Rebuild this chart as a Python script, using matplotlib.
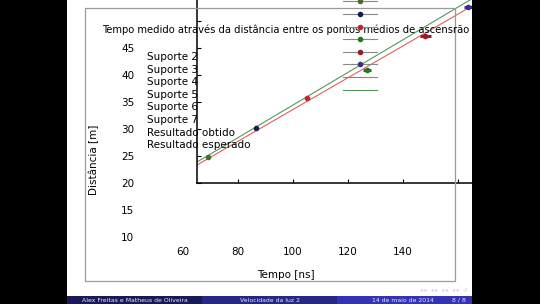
import matplotlib
matplotlib.use("Agg")
import matplotlib.pyplot as plt
from matplotlib.lines import Line2D
from matplotlib.patches import Rectangle

# measured data (tempo em ns, distancia em m)
suportes = ["Suporte 2", "Suporte 3", "Suporte 4", "Suporte 5", "Suporte 6", "Suporte 7"]
tempo = [69.1, 86.5, 105.1, 126.9, 148.0, 163.6]
distancia = [24.8, 30.2, 35.7, 40.9, 47.2, 52.6]
erro_tempo = [0.8, 0.8, 0.8, 1.4, 2.0, 1.6]
cores = ["#4f6b2f", "#1b1b4f", "#c0282d", "#1f7a1f", "#9e1a28", "#3a2f86"]

# fitted / expected lines (two end points each)
t_linha = [60.0, 175.0]
d_obtido = [21.83, 55.70]
d_esperado = [22.35, 57.11]

titulo = "Tempo medido através da distância entre os pontos médios de ascensrão"
rotulos = suportes + ["Resultado obtido", "Resultado esperado"]
xticks_lbl = [60, 80, 100, 120, 140]
yticks_lbl = [10, 15, 20, 25, 30, 35, 40, 45]

W, H = 540, 304
PX_T, PX_D = 2.75, 5.4  # pixels per ns, per m


def t_of(x):
    return 80 + (x - 238) / PX_T


def d_of(y):
    return 20 + (183 - y) / PX_D


def box(x0, y0, x1, y1):
    return [x0 / W, 1 - y1 / H, (x1 - x0) / W, (y1 - y0) / H]


def main():
    plt.rcParams['font.family'] = ['DejaVu Sans']
    fig = plt.figure(figsize=(W / 100, H / 100), dpi=100)
    fig.patch.set_facecolor('white')

    # outer (labels only) axes
    ox0, oy0, ox1, oy1 = 137, 40, 440, 244
    ax_out = fig.add_axes(box(ox0, oy0, ox1, oy1))
    ax_out.set_xlim(t_of(ox0), t_of(ox1))
    ax_out.set_ylim(d_of(oy1), d_of(oy0))
    for s in ax_out.spines.values():
        s.set_visible(False)
    ax_out.patch.set_visible(False)
    ax_out.set_xticks(xticks_lbl)
    ax_out.set_yticks(yticks_lbl)
    ax_out.tick_params(length=0, pad=2, labelsize=7.5)
    ax_out.set_xlabel('Tempo [ns]', fontsize=7.5)
    ax_out.xaxis.set_label_coords((286 - ox0) / (ox1 - ox0), -(270 - oy1) / (oy1 - oy0))
    ax_out.set_ylabel('Distância [m]', fontsize=7.5)
    ax_out.yaxis.set_label_coords(-(ox0 - 99) / (ox1 - ox0), (oy1 - 160) / (oy1 - oy0))
    fig.text(286 / W, 1 - 30 / H, titulo, fontsize=7.2, ha='center', va='center')

    # gray frame of the outer plot
    fig.add_artist(Rectangle((85 / W, 1 - 281 / H), 370 / W, 273 / H, transform=fig.transFigure,
                             fill=False, edgecolor='#9a9a9a', linewidth=0.9))

    # inner data axes
    ix0, iy0, ix1, iy1 = 197, -20, 520, 183
    ax = fig.add_axes(box(ix0, iy0, ix1, iy1))
    ax.set_xlim(t_of(ix0), t_of(ix1))
    ax.set_ylim(d_of(iy1), d_of(iy0))
    ax.patch.set_visible(False)
    ax.spines['top'].set_visible(False)
    ax.spines['right'].set_visible(False)
    ax.spines['left'].set_linewidth(1.1)
    ax.spines['bottom'].set_linewidth(1.1)
    ax.set_xticks([80, 100, 120, 140, 160, 180])
    ax.set_yticks([20, 25, 30, 35, 40, 45, 50, 55])
    ax.tick_params(direction='in', length=3, width=0.8, labelleft=False, labelbottom=False)

    ax.plot(t_linha, d_obtido, color='#e06060', linewidth=0.8)
    ax.plot(t_linha, d_esperado, color='#4f9a5a', linewidth=0.8)
    for i in range(len(tempo)):
        ax.errorbar(tempo[i], distancia[i], xerr=erro_tempo[i], fmt='o', color=cores[i],
                    ecolor=cores[i], elinewidth=2.2, markersize=3, capsize=0)

    # legend: handles and labels ended up in different places
    handles = [Line2D([], [], color='#8a8a8a', linewidth=0.8, marker='o', markersize=3,
                      markerfacecolor=c, markeredgecolor=c) for c in cores]
    handles += [Line2D([], [], color='#e06060', linewidth=0.8),
                Line2D([], [], color='#4f9a5a', linewidth=0.8)]
    fig.legend(handles=handles, labels=[' '] * len(handles), loc='upper left',
               bbox_to_anchor=(343 / W, 1 + 3 / H), frameon=False, fontsize=7.5,
               handlelength=3.3, handletextpad=0, borderpad=0, borderaxespad=0,
               labelspacing=0.25)
    blank = [Line2D([], [], linestyle='none')] * len(rotulos)
    fig.legend(handles=blank, labels=rotulos, loc='upper left',
               bbox_to_anchor=(147 / W, 1 - 52 / H), frameon=False, fontsize=7.5,
               handlelength=0, handletextpad=0, borderpad=0, borderaxespad=0,
               labelspacing=0.25)

    # beamer footer
    foot = [(67, 202, '#191959', 'Alex Freitas e Matheus de Oliveira'),
            (202, 337, '#262686', 'Velocidade da luz 2'),
            (337, 472, '#3333b3', '')]
    for x0, x1, c, txt in foot:
        fig.add_artist(Rectangle((x0 / W, 0), (x1 - x0) / W, 8 / H, transform=fig.transFigure,
                                 facecolor=c, edgecolor='none'))
        if txt:
            fig.text((x0 + x1) / 2 / W, 4 / H, txt, fontsize=4.4, color='#e8e8f4',
                     ha='center', va='center')
    fig.text(434 / W, 4 / H, '14 de maio de 2014', fontsize=4.4, color='#e8e8f4', ha='right', va='center')
    fig.text(466 / W, 4 / H, '8 / 8', fontsize=4.4, color='#e8e8f4', ha='right', va='center')
    # navigation symbols (faint)
    fig.text(468 / W, 1 - 290 / H, '◂ ▸  ◂ ▸  ◂ ▸  ◂ ▸  ↺', fontsize=4, color='#d0d0dc',
             ha='right', va='center')

    # black side bars
    for x0, x1 in [(0, 67), (472, 540)]:
        fig.add_artist(Rectangle((x0 / W, 0), (x1 - x0) / W, 1, transform=fig.transFigure,
                                 facecolor='black', edgecolor='none', zorder=10))

    fig.savefig('out.png', dpi=100)
    plt.close()


if __name__ == "__main__":
    main()
